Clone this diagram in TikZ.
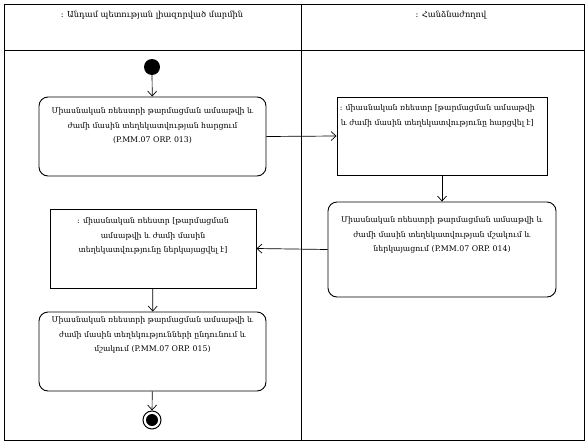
\documentclass[tikz,border=0pt]{standalone}
\usepackage{fontspec}
\setmainfont{DejaVu Serif}
\usetikzlibrary{arrows.meta}
\tikzset{
 frame/.style={draw, line width=0.9pt},
 action/.style={draw, rounded corners=9pt, line width=0.9pt, inner sep=0pt},
 objbox/.style={draw, line width=0.9pt, inner sep=0pt},
 txt/.style={font=\fontsize{7.8}{14.6}\selectfont, align=center, anchor=north, inner sep=0pt},
 hdr/.style={font=\fontsize{8.3}{9}\selectfont, inner sep=0pt},
 flow/.style={-{Straight Barb[length=5pt,width=9pt]}, line width=0.7pt},
}
\begin{document}
\begin{tikzpicture}[x=1pt,y=1pt]
\useasboundingbox (0,0) rectangle (588,-444);
% frame and lanes
\draw[frame] (4,-4) rectangle (584,-440);
\draw[frame] (4,-50) -- (584,-50);
\draw[frame] (301,-4) -- (301,-440);
\node[hdr] (h1) at (152,-15) {: Անդամ պետության լիազորված մարմին};
\node[hdr] (h2) at (451,-15) {: Հանձնաժողով};
% start
\node[circle, fill=black, minimum size=16pt, inner sep=0pt] (start) at (152,-67) {};
% boxes
\node[action, minimum width=227pt, minimum height=79pt] (a1) at (152.5,-136.5) {};
\node[txt] (t1) at ([yshift=-11pt]a1.north) {Միասնական ռեեստրի թարմացման ամսաթվի և\\ժամի մասին տեղեկատվության հարցում\\(P.MM.07 ORP. 013)};
\node[objbox, minimum width=210pt, minimum height=78pt] (o1) at (442,-136) {};
\node[txt, anchor=north west] (t2) at ([xshift=3pt,yshift=-8pt]o1.north west) {: միասնական ռեեստր [թարմացման ամսաթվի\\և ժամի մասին տեղեկատվությունը հարցվել է]};
\node[action, minimum width=228pt, minimum height=95pt] (a2) at (442,-249.5) {};
\node[txt] (t3) at ([yshift=-15pt]a2.north) {Միասնական ռեեստրի թարմացման ամսաթվի և\\ժամի մասին տեղեկատվության մշակում և\\ներկայացում (P.MM.07 ORP. 014)};
\node[objbox, minimum width=206pt, minimum height=79pt] (o2) at (153,-248.5) {};
\node[txt] (t4) at ([yshift=-9pt]o2.north) {: միասնական ռեեստր [թարմացման\\ամսաթվի և ժամի մասին\\տեղեկատվությունը ներկայացվել է]};
\node[action, minimum width=227pt, minimum height=79pt] (a3) at (152.5,-351.5) {};
\node[txt] (t5) at ([yshift=-5pt]a3.north) {Միասնական ռեեստրի թարմացման ամսաթվի և\\ժամի մասին տեղեկությունների ընդունում և\\մշակում (P.MM.07 ORP. 015)};
% end
\node[circle, draw, line width=1pt, minimum size=18pt, inner sep=0pt] (end) at (152,-420) {};
\fill (end.center) circle (6pt);
% flows
\draw[flow] (start) -- (a1);
\draw[flow] (a1.east) -- (o1.west);
\draw[flow] (o1) -- (a2);
\draw[flow] (a2.west) -- (o2.east);
\draw[flow] (o2) -- (a3);
\draw[flow] (a3) -- (end);
\end{tikzpicture}
\end{document}
